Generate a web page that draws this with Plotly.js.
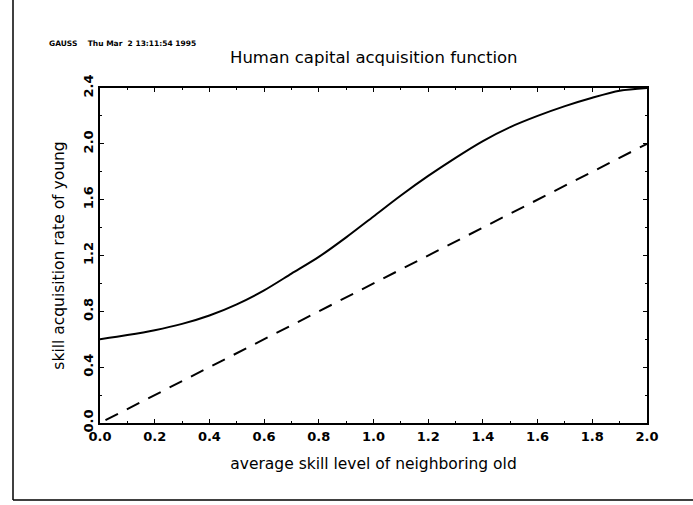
<!DOCTYPE html>
<html>
<head>
<meta charset="utf-8">
<script src="https://cdn.plot.ly/plotly-3.0.1.min.js"></script>
<style>html,body{margin:0;padding:0;background:#fff;}#chart{width:693px;height:505px;}</style>
</head>
<body>
<div id="chart"></div>
<script>
var skillOld = [0.0,0.1,0.2,0.3,0.4,0.5,0.6,0.7,0.8,0.9,1.0,1.1,1.2,1.3,1.4,1.5,1.6,1.7,1.8,1.9,2.0];
var acquisitionRate = [0.60,0.63,0.665,0.71,0.77,0.85,0.95,1.07,1.19,1.33,1.48,1.63,1.77,1.90,2.02,2.12,2.20,2.27,2.33,2.38,2.40];
var diagX = [0.02,2.0];
var diagY = [0.02,2.0];
var xTicks = [0.0,0.2,0.4,0.6,0.8,1.0,1.2,1.4,1.6,1.8,2.0];
var xTickText = ["0.0","0.2","0.4","0.6","0.8","1.0","1.2","1.4","1.6","1.8","2.0"];
var yTicks = [0.0,0.4,0.8,1.2,1.6,2.0,2.4];
var yTickText = ["0.0","0.4","0.8","1.2","1.6","2.0","2.4"];
var titleText = "Human capital acquisition function";
var headerText = "GAUSS    Thu Mar  2 13:11:54 1995";
var xTitle = "average skill level of neighboring old";
var yTitle = "skill acquisition rate of young";

var F = "DejaVu Sans, Arial, sans-serif";
var traces = [
  {x: skillOld, y: acquisitionRate, mode: "lines", line: {color: "#000", width: 2, shape: "spline", smoothing: 0.8}, hoverinfo: "skip"},
  {x: diagX, y: diagY, mode: "lines", line: {color: "#000", width: 2, dash: "14px,10px"}, hoverinfo: "skip"}
];
var layout = {
  width: 693, height: 505,
  margin: {l: 100, r: 46, t: 88, b: 82},
  paper_bgcolor: "#fff", plot_bgcolor: "#fff",
  showlegend: false,
  font: {family: F, color: "#000"},
  xaxis: {
    range: [0, 2], tickvals: xTicks, ticktext: xTickText,
    showgrid: false, zeroline: false, showline: true, linewidth: 2, linecolor: "#000", mirror: "ticks",
    ticks: "inside", ticklen: 4, tickwidth: 1, tickcolor: "#000",
    minor: {dtick: 0.1, ticks: "inside", ticklen: 2, tickcolor: "#000"},
    tickfont: {family: F, size: 13, color: "#000", weight: "bold"},
    title: {text: xTitle, font: {family: F, size: 15.5, color: "#000"}, standoff: 16}
  },
  yaxis: {
    range: [0, 2.4], tickvals: yTicks, ticktext: yTickText, tickangle: -90,
    showgrid: false, zeroline: false, showline: true, linewidth: 2, linecolor: "#000", mirror: "ticks",
    ticks: "inside", ticklen: 4, tickwidth: 1, tickcolor: "#000",
    minor: {dtick: 0.2, ticks: "inside", ticklen: 2, tickcolor: "#000"},
    tickfont: {family: F, size: 13, color: "#000", weight: "bold"},
    title: {text: yTitle, font: {family: F, size: 15.5, color: "#000"}, standoff: 12}
  },
  annotations: [
    {xref: "paper", yref: "paper", x: (374 - 100) / 547, y: 1.0 + (88 - 57) / 335, xanchor: "center", yanchor: "middle",
     text: titleText, showarrow: false, font: {family: F, size: 16.5, color: "#000"}},
    {xref: "paper", yref: "paper", x: (47 - 100) / 547, y: 1.0 + (88 - 44) / 335, xanchor: "left", yanchor: "middle",
     text: headerText, showarrow: false, font: {family: F, size: 7.5, color: "#000", weight: "bold"}}
  ],
  shapes: [
    {type: "line", xref: "paper", yref: "paper", x0: (13 - 100) / 547, x1: (13 - 100) / 547, y0: 1 + 88 / 335, y1: (423 - 500) / 335, line: {color: "#000", width: 1.5}},
    {type: "line", xref: "paper", yref: "paper", x0: (13 - 100) / 547, x1: (693 - 100) / 547, y0: (423 - 500) / 335, y1: (423 - 500) / 335, line: {color: "#000", width: 1.5}}
  ]
};
Plotly.newPlot("chart", traces, layout, {displayModeBar: false, staticPlot: true});
</script>
</body>
</html>
